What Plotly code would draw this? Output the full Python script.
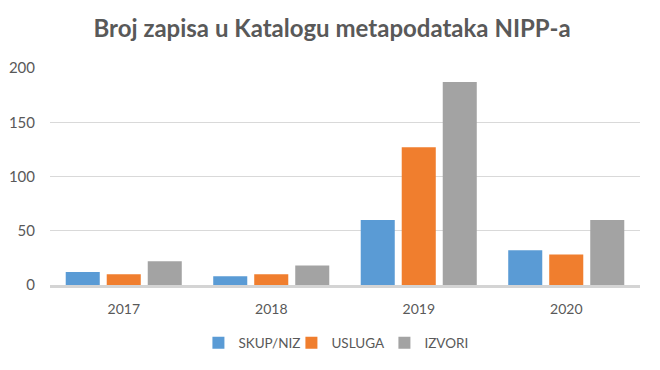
import plotly.graph_objects as go

years = ["2017", "2018", "2019", "2020"]
skup_niz = [12, 8, 60, 32]
usluga = [10, 10, 127, 28]
izvori = [22, 18, 187, 60]
y_ticks = [0, 50, 100, 150, 200]

fig = go.Figure()
fig.add_trace(go.Bar(name="SKUP/NIZ", x=years, y=skup_niz, marker=dict(color="#5A9BD5", line=dict(width=0))))
fig.add_trace(go.Bar(name="USLUGA", x=years, y=usluga, marker=dict(color="#F07E2E", line=dict(width=0))))
fig.add_trace(go.Bar(name="IZVORI", x=years, y=izvori, marker=dict(color="#A3A3A3", line=dict(width=0))))

font_family = "Lato, 'Open Sans', sans-serif"
# page body has an 8px default margin, so the figure is sized to fit the window
fig.update_layout(
    width=652, height=362,
    margin=dict(l=42, r=20, t=60, b=85),
    paper_bgcolor="white", plot_bgcolor="white",
    barmode="group", bargap=0.166, bargroupgap=0.17,
    title=dict(text="<b>Broj zapisa u Katalogu metapodataka NIPP-a</b>", x=0.497, xanchor="center",
               y=0.943, yanchor="middle", font=dict(family=font_family, size=24, color="#595959")),
    font=dict(family=font_family, size=14, color="#595959"),
    legend=dict(orientation="h", x=0.488, xanchor="center", y=-0.267, yanchor="middle",
                font=dict(size=13.5, color="#595959"), itemwidth=30, traceorder="normal",
                entrywidth=48, entrywidthmode="pixels"),
    showlegend=True,
)
fig.update_yaxes(range=[0, 200], tickvals=y_ticks, showgrid=True, gridcolor="#D9D9D9", gridwidth=1,
                 zeroline=False, showline=False, ticks="", ticklabelstandoff=14, automargin=False,
                 tickfont=dict(size=15, color="#595959"))
fig.update_xaxes(showline=True, linecolor="#D4D4D4", linewidth=3, ticks="", showgrid=False,
                 ticklabelstandoff=9, automargin=False, tickfont=dict(size=14, color="#595959"))

fig.write_html("out.html")
